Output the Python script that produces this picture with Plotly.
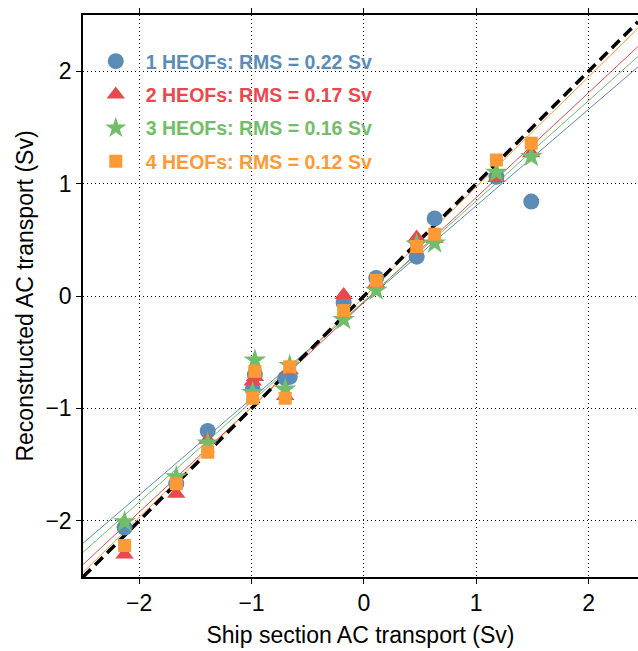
import plotly.graph_objects as go
import numpy as np

# ---- data ----
ship_x = [-2.13, -1.67, -1.39, -0.99, -0.97, -0.70, -0.66, -0.18, 0.11, 0.47, 0.63, 1.18, 1.49]
heof1 = [-2.06, -1.67, -1.20, -0.83, -0.70, -0.73, -0.72, -0.06, 0.16, 0.35, 0.69, 1.06, 0.84]
heof2 = [-2.30, -1.76, -1.28, -0.76, -0.72, -0.89, -0.66, 0.01, 0.11, 0.52, 0.51, 1.05, 1.27]
heof3 = [-2.01, -1.61, -1.31, -0.86, -0.57, -0.83, -0.62, -0.21, 0.05, 0.46, 0.47, 1.10, 1.24]
heof4 = [-2.22, -1.67, -1.39, -0.91, -0.67, -0.91, -0.63, -0.13, 0.14, 0.44, 0.55, 1.21, 1.36]

series_names = ["1 HEOFs: RMS = 0.22 Sv", "2 HEOFs: RMS = 0.17 Sv",
                "3 HEOFs: RMS = 0.16 Sv", "4 HEOFs: RMS = 0.12 Sv"]
fit_slopes = [0.858, 0.933, 0.893, 0.980]
fit_intercepts = [-0.055, -0.057, -0.048, -0.010]
ticks = [-2, -1, 0, 1, 2]
x_range = [-2.5, 2.44]
y_range = [-2.5, 2.5]

colors = ["#5b8cb6", "#e8494f", "#72bd69", "#fd9a36"]
symbols = ["circle", "triangle-up", "star", "square"]
sizes = [16, 16, 17, 13]
series = [heof1, heof2, heof3, heof4]

fig = go.Figure()

xl = np.array(x_range)
# fitted lines
for s, b, c in zip(fit_slopes, fit_intercepts, colors):
    fig.add_trace(go.Scatter(x=xl, y=b + s * xl, mode="lines",
                             line=dict(color=c, width=1), showlegend=False,
                             hoverinfo="skip"))
# 1:1 line
fig.add_trace(go.Scatter(x=xl, y=xl, mode="lines",
                         line=dict(color="black", width=3.5, dash="11px,6px"),
                         showlegend=False, hoverinfo="skip"))

for i, (ys, name) in enumerate(zip(series, series_names)):
    fig.add_trace(go.Scatter(
        x=ship_x, y=ys, mode="markers",
        marker=dict(color=colors[i], symbol=symbols[i], size=sizes[i],
                    line=dict(width=0)),
        name=f'<b><span style="color:{colors[i]}">{name}</span></b>',
        legendgroup=f"g{i}",
    ))

axis_common = dict(
    showline=True, linecolor="black", linewidth=1.5,
    ticks="outside", ticklen=5, tickcolor="black", tickwidth=1,
    showgrid=True, gridcolor="black", gridwidth=1, griddash="1px,3px",
    zeroline=False, tickvals=ticks,
    ticktext=[("\u2212" + str(-t)) if t < 0 else str(t) for t in ticks],
    tickfont=dict(family="Liberation Sans, Arial, sans-serif", size=23, color="black"),
    title_font=dict(family="Liberation Sans, Arial, sans-serif", size=23, color="black"),
)

fig.update_xaxes(range=x_range, mirror="ticks",
                 title_text="Ship section AC transport (Sv)", title_standoff=12,
                 **axis_common)
fig.update_yaxes(range=y_range, mirror=False,
                 title_text="Reconstructed AC transport (Sv)", title_standoff=5,
                 **axis_common)

fig.update_layout(
    width=638, height=651,
    margin=dict(l=83, r=0, t=15, b=74, autoexpand=False),
    plot_bgcolor="white", paper_bgcolor="white",
    legend=dict(x=0.005, y=0.952, xanchor="left", yanchor="top",
                bgcolor="rgba(0,0,0,0)", itemwidth=50, tracegroupgap=5,
                font=dict(family="Liberation Sans, Arial, sans-serif", size=19.5)),
    showlegend=True,
)

fig.write_html(
    "out.html",
    config={"displayModeBar": False},
    post_script="document.body.style.margin='0';document.body.style.overflow='hidden';",
)
